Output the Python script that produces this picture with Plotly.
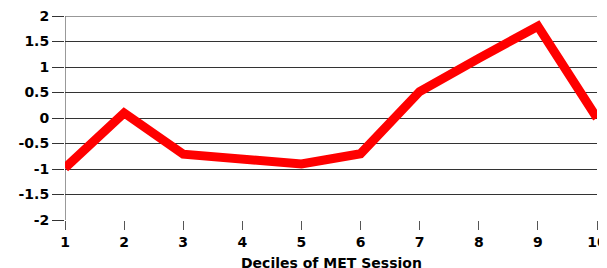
import plotly.graph_objects as go

deciles = [1, 2, 3, 4, 5, 6, 7, 8, 9, 10]
values = [-0.98, 0.1, -0.71, -0.8, -0.9, -0.7, 0.52, 1.17, 1.8, 0.0]
y_ticks = [2, 1.5, 1, 0.5, 0, -0.5, -1, -1.5, -2]
y_tick_labels = ["2", "1.5", "1", "0.5", "0", "-0.5", "-1", "-1.5", "-2"]
x_title = "Deciles of MET Session"

fig = go.Figure()
fig.add_trace(go.Scatter(x=deciles, y=values, mode="lines",
                         line=dict(color="#ff0000", width=9),
                         hoverinfo="skip"))

tick_font = dict(family="DejaVu Sans", size=14, color="#000000", weight="bold")

# page body adds ~8px offset; compensate
fig.update_layout(
    width=599, height=260,
    margin=dict(l=57, r=10, t=8, b=48),
    paper_bgcolor="white", plot_bgcolor="white",
    showlegend=False,
    font=dict(family="DejaVu Sans", size=13, color="#000000"),
    xaxis=dict(range=[1, 10], tickmode="array", tickvals=deciles,
               ticktext=[str(d) for d in deciles],
               showgrid=False, zeroline=False, automargin=False,
               ticks="outside", ticklen=9, tickcolor="#555555", tickwidth=1,
               showline=False, ticklabeloverflow="allow",
               tickfont=tick_font),
    yaxis=dict(range=[-2, 2], tickmode="array", tickvals=y_ticks,
               ticktext=y_tick_labels,
               showgrid=True, gridcolor="#333333", gridwidth=1,
               zeroline=False, ticks="outside", ticklen=12, automargin=False,
               tickcolor="#333333", showline=False, ticklabeloverflow="allow",
               tickfont=tick_font),
)

fig.add_annotation(text=x_title, xref="paper", yref="paper",
                   x=0.5, y=0, yshift=-33, xanchor="center", yanchor="top",
                   showarrow=False,
                   font=dict(family="DejaVu Sans", size=14, color="#000000", weight="bold"))

fig.add_shape(type="line", xref="paper", yref="y", x0=0, x1=1, y0=2, y1=2,
              line=dict(color="#333333", width=1), layer="below")
fig.add_shape(type="line", xref="x", yref="y", x0=1, x1=1, y0=-2, y1=2,
              line=dict(color="#777777", width=1.5), layer="below")

fig.write_html("out.html")
